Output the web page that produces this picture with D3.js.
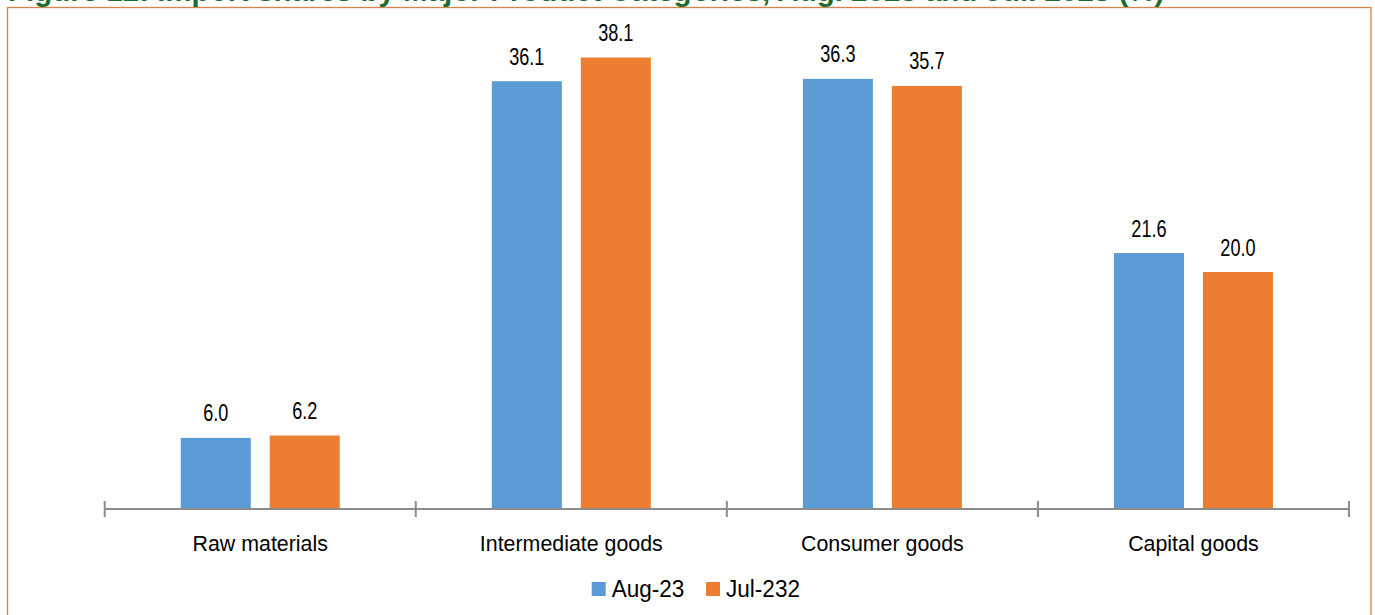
<!DOCTYPE html>
<html><head><meta charset="utf-8">
<script src="https://cdn.jsdelivr.net/npm/d3@7"></script>
<style>body{margin:0;background:#fff;} text{font-family:"Liberation Sans",Arial,sans-serif;}</style>
</head><body>
<svg id="chart" width="1375" height="615"></svg>
<script>
const title = "Figure 12: Import shares by Major Product Categories, Aug. 2023 and Jul. 2023 (%)";
const categories = ["Raw materials", "Intermediate goods", "Consumer goods", "Capital goods"];
const seriesNames = ["Aug-23", "Jul-232"];
const aug23 = [6.0, 36.1, 36.3, 21.6];
const jul23 = [6.2, 38.1, 35.7, 20.0];
const colors = ["#5B9BD5", "#ED7D31"];

const svg = d3.select("#chart");
svg.append("rect").attr("x", 7.5).attr("y", 7.5).attr("width", 1363.5).attr("height", 620)
  .attr("fill", "none").attr("stroke", "#D9834A").attr("stroke-width", 1.3);

const t = svg.append("text").attr("x", 8).attr("y", 1).attr("font-weight", "bold")
  .attr("fill", "#1E6B2E").attr("font-size", 22).text(title);
const tw = t.node().getComputedTextLength();
t.attr("font-size", 22 * 1157 / tw);

const x0 = d3.scaleBand().domain(categories).range([104.7, 1349]);
const x1 = d3.scaleBand().domain(seriesNames)
  .range([x0.bandwidth()/2 - 79.5, x0.bandwidth()/2 + 79.5]).paddingInner(0.213);
const y = d3.scaleLinear().domain([0, 40]).range([509, 35]);

const data = categories.map((c, i) => ({cat: c, vals: [aug23[i], jul23[i]]}));

const g = svg.selectAll("g.cat").data(data).enter().append("g")
  .attr("transform", d => `translate(${x0(d.cat)},0)`);
g.selectAll("rect").data(d => d.vals.map((v, j) => ({v, s: seriesNames[j], j})))
  .enter().append("rect")
  .attr("x", d => x1(d.s)).attr("width", x1.bandwidth())
  .attr("y", d => y(d.v)).attr("height", d => y(0) - y(d.v))
  .attr("fill", d => colors[d.j]);
g.selectAll("text.val").data(d => d.vals.map((v, j) => ({v, s: seriesNames[j], j})))
  .enter().append("text").attr("class", "val")
  .attr("transform", d => `translate(${x1(d.s) + x1.bandwidth()/2},${y(d.v) - 16.5}) scale(0.77,1)`)
  .attr("text-anchor", "middle").attr("font-size", 23.5).attr("fill", "#000")
  .text(d => d3.format(".1f")(d.v));

// axis
const axisG = svg.append("g").attr("transform", "translate(0,509)");
axisG.append("line").attr("x1", 104.7).attr("x2", 1349).attr("stroke", "#8C8C8C").attr("stroke-width", 2);
const bounds = categories.map(c => x0(c)).concat([x0.range()[1]]);
axisG.selectAll("line.tick").data(bounds).enter().append("line")
  .attr("x1", d => d).attr("x2", d => d).attr("y1", -8).attr("y2", 8)
  .attr("stroke", "#8C8C8C").attr("stroke-width", 2);
axisG.selectAll("text").data(categories).enter().append("text")
  .attr("transform", d => `translate(${x0(d) + x0.bandwidth()/2},41.5) scale(0.95,1)`)
  .attr("text-anchor", "middle").attr("font-size", 22.5).attr("fill", "#000").text(d => d);

// legend
const legX = [591.7, 706];
const lg = svg.selectAll("g.leg").data(seriesNames).enter().append("g")
  .attr("transform", (d, i) => `translate(${legX[i]},582)`);
lg.append("rect").attr("width", 14).attr("height", 14).attr("fill", (d, i) => colors[i]);
lg.append("text").attr("transform", "translate(20,14.7) scale(0.94,1)")
  .attr("font-size", 24).attr("fill", "#000").text(d => d);
</script>
</body></html>
